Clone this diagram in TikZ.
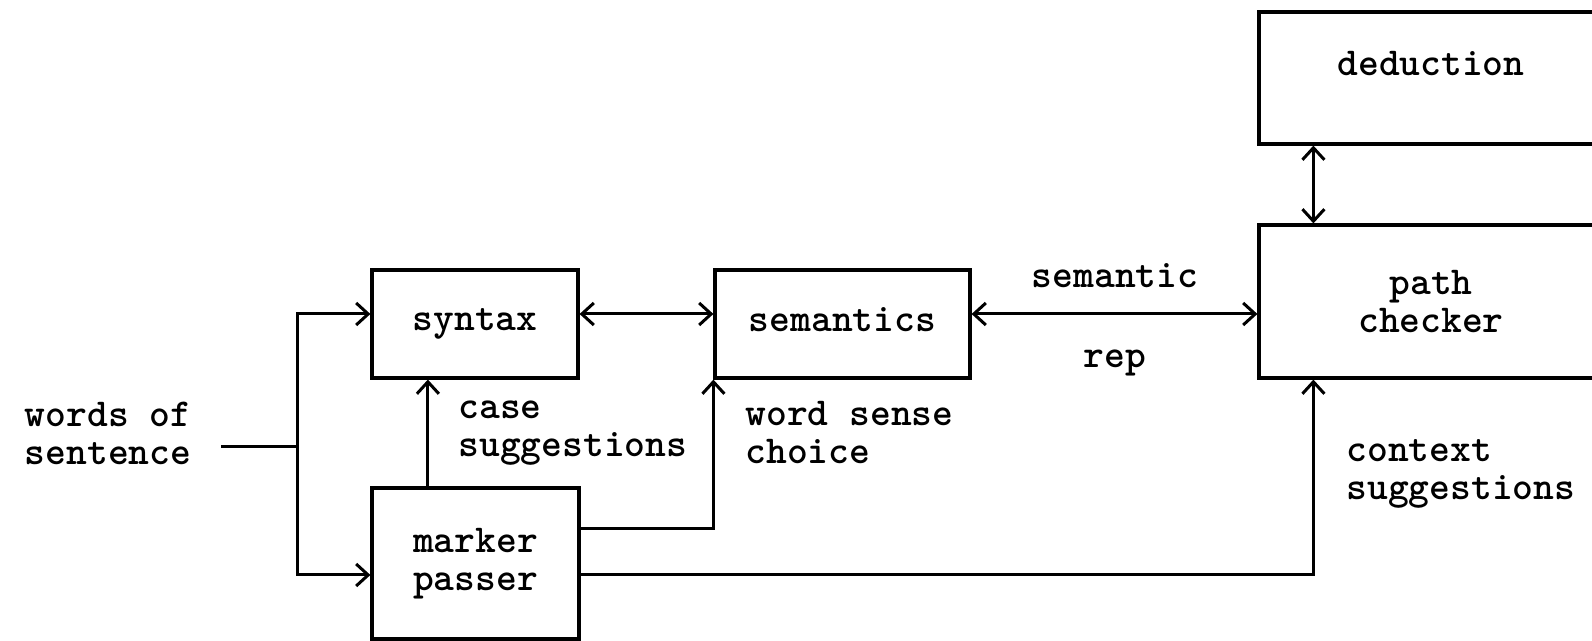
\documentclass[tikz,border=0pt]{standalone}
\usetikzlibrary{arrows.meta}
\begin{document}
\begin{tikzpicture}[x=0.5pt,y=-0.5pt,
  line width=1.5pt,
  every node/.style={font=\ttfamily\bfseries\fontsize{19.8pt}{19pt}\selectfont},
  box/.style={draw, line width=1.6pt, inner sep=0pt, align=center},
  lbl/.style={inner sep=0pt, align=left, anchor=west},
  tip/.style={-{Straight Barb[length=6pt,width=11pt,line width=1.5pt]}},
  tips/.style={{Straight Barb[length=6pt,width=11pt,line width=1.5pt]}-{Straight Barb[length=6pt,width=11pt,line width=1.5pt]}}
]
\useasboundingbox (0,0) rectangle (1592,641);

% processing modules
\node[box, minimum width=103pt, minimum height=54pt] (syntax) at (475,324) {syntax};
\node[box, minimum width=127.5pt, minimum height=54pt, text depth=4pt] (semantics) at (842.5,324) {semantics};
\node[box, minimum width=103.5pt, minimum height=75.5pt] (marker) at (475.5,563.5) {marker\\passer};
\node[box, minimum width=172pt, minimum height=76.5pt] (path) at (1431,301.5) {path\\checker};
\node[box, minimum width=172pt, minimum height=66pt, text depth=15pt] (ded) at (1431,78) {deduction};

% input
\node[inner sep=0pt, align=right] (words) at (108,433) {words of\\sentence};
\coordinate (in) at (221,447);
\coordinate (split) at (297,447);
\draw (in) -- (split);
\draw[tip] (split) |- ([yshift=5pt]syntax.west);
\draw[tip] (split) |- ([yshift=-5.75pt]marker.west);

% module links
\draw[tips] ([yshift=5pt]syntax.east) -- ([yshift=5pt]semantics.west);
\coordinate (semR) at ([yshift=5pt]semantics.east);
\draw[tips] (semR) -- (semR -| path.west);
\coordinate (dedB) at ([xshift=28pt]ded.south west);
\coordinate (pathT) at ([xshift=28pt]path.north west);
\draw[tips] (dedB) -- (pathT);

% marker passer outputs
\coordinate (mkT) at ([xshift=28.75pt]marker.north west);
\draw[tip] (mkT) -- (mkT |- syntax.south);
\draw[tip] ([yshift=17.25pt]marker.east) -| (semantics.south west);
\coordinate (pathB) at ([xshift=28pt]path.south west);
\draw[tip] ([yshift=-5.75pt]marker.east) -| (pathB);

% labels
\node[lbl] (caseS) at (457,433) {case\\suggestions};
\node[lbl] (wsc) at (744,433) {word sense\\choice};
\node[inner sep=0pt] (semrep1) at (1115,276) {semantic};
\node[inner sep=0pt] (semrep2) at (1115,363) {rep};
\node[lbl] (ctx) at (1345,474) {context\\suggestions};
\end{tikzpicture}
\end{document}
